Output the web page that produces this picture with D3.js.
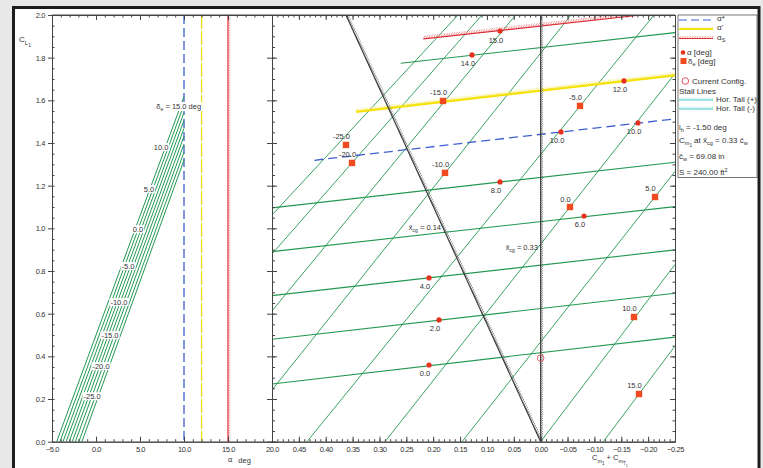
<!DOCTYPE html>
<html><head><meta charset="utf-8">
<script src="https://cdn.jsdelivr.net/npm/d3@7"></script>
<style>
body{margin:0;background:#e8e8e8;}
svg{display:block;font-family:"Liberation Sans",Arial,sans-serif;}
</style></head><body>
<svg id="chart" width="763" height="468"></svg>
<script>
// ---- left panel: CL vs alpha, one line per elevator deflection
const deVals = [15, 10, 5, 0, -5, -10, -15, -20, -25];
const deZeroLiftAlpha = [-4.47, -4.1, -3.75, -3.4, -3.05, -2.7, -2.35, -1.95, -1.6];
const deClAtAlphaStar = [1.617, 1.58, 1.543, 1.506, 1.469, 1.432, 1.395, 1.357, 1.32];
const deLabelAlpha = [9.40, 7.39, 6.02, 4.77, 3.64, 2.61, 1.59, 0.57, -0.45];
const deLabelCl    = [1.574, 1.382, 1.185, 0.997, 0.824, 0.655, 0.50, 0.355, 0.214];
const alphaStar = 10, alphaPrime = 12, alphaStall = 15;

// ---- right panel: carpet, CL vs Cm
// constant alpha lines (start / end points)
const alphaVals = [0, 2, 4, 6, 8, 10, 12, 14, 15];
const alphaCm0  = [0.5, 0.5, 0.5, 0.5, 0.5, 0.4213, 0.3437, 0.2605, 0.2184];
const alphaCl0  = [0.2705, 0.480, 0.6845, 0.891, 1.096, 1.319, 1.547, 1.774, 1.888];
const alphaCm1  = [-0.25, -0.25, -0.25, -0.25, -0.25, -0.25, -0.25, -0.25, -0.1868];
const alphaCl1  = [0.490, 0.696, 0.899, 1.102, 1.310, 1.513, 1.718, 1.9175, 2.0];
// constant elevator lines (start / end points)
const deLineVals = [-25, -20, -15, -10, -5, 0, 5, 10, 15];
const deLineCm0  = [0.5, 0.5, 0.5, 0.5, 0.4349, 0.2897, 0.1464, 0.0, -0.1166];
const deLineCl0  = [1.0628, 0.88, 0.613, 0.2424, 0, 0, 0, 0, 0];
const deLineCm1  = [0.1538, 0.1092, 0.0466, -0.0565, -0.211, -0.25, -0.25, -0.25, -0.25];
const deLineCl1  = [2.0, 2.0, 2.0, 2.0, 2.0, 1.7253, 1.2668, 0.8308, 0.4487];
// labelled alpha points
const alphaPtLabel = ["15.0", "14.0", "12.0", "10.0", "10.0", "8.0", "6.0", "4.0", "2.0", "0.0"];
const alphaPtCm    = [0.0757, 0.1278, -0.1551, -0.0379, -0.1812, 0.0757, -0.0807, 0.2078, 0.1892, 0.2078];
const alphaPtCl    = [1.925, 1.813, 1.691, 1.452, 1.494, 1.2175, 1.058, 0.7675, 0.5706, 0.3596];
// labelled elevator points
const dePtLabel = ["-25.0", "-20.0", "-15.0", "-10.0", "-5.0", "0.0", "5.0", "10.0", "15.0"];
const dePtCm    = [0.3623, 0.3511, 0.1817, 0.178, -0.0732, -0.0546, -0.2128, -0.1737, -0.183];
const dePtCl    = [1.391, 1.3066, 1.597, 1.26, 1.574, 1.10, 1.147, 0.5846, 0.2236];
// cg reference lines (Cm at CL=0, Cm at CL=2)
const cgVals   = [0.14, 0.33];
const cgCmLow  = [0.0, 0.0];
const cgCmHigh = [0.3623, 0.0];
const cgLabelCm = [0.1855, 0.005];
const cgLabelCl = [0.9925, 0.899];
const currentCm = 0.0, currentCl = 0.392;

const green = "#239850", red = "#e8301e", blue = "#3f5fd0", yellow = "#f2dc00", dark = "#333";

const svg = d3.select("#chart");
svg.append("rect").attr("width", 763).attr("height", 468).attr("fill", "#e8e8e8");
svg.append("rect").attr("x", 13.5).attr("y", 7.5).attr("width", 745.5).attr("height", 470)
  .attr("fill", "#fff").attr("stroke", "#1c1c1c").attr("stroke-width", 3);

const yScale = d3.scaleLinear().domain([0, 2]).range([441.7, 15]);
const aScale = d3.scaleLinear().domain([-5, 20]).range([52, 272]);
const cmScale = d3.scaleLinear().domain([0.5, -0.25]).range([272, 675]);

function hatch(g, x0, y0, x1, y1, o) {
  g.append("line").attr("x1", x0).attr("y1", y0).attr("x2", x1).attr("y2", y1)
    .attr("stroke", o.color).attr("stroke-width", o.width || 1.2);
  const dx = x1 - x0, dy = y1 - y0, L = Math.hypot(dx, dy), ux = dx / L, uy = dy / L;
  const nx = -uy * o.side, ny = ux * o.side;
  const p = d3.path(), step = o.step || 3, len = o.len || 3;
  for (let s = 0; s <= L; s += step) {
    const px = x0 + ux * s, py = y0 + uy * s;
    p.moveTo(px, py);
    p.lineTo(px + (nx * 0.8 + ux * 0.6) * len, py + (ny * 0.8 + uy * 0.6) * len);
  }
  g.append("path").attr("d", p.toString()).attr("fill", "none")
    .attr("stroke", o.tick).attr("stroke-width", 0.8);
}

// ---------- left panel ----------
const gl = svg.append("g");
gl.append("line").attr("x1", aScale(alphaStar)).attr("x2", aScale(alphaStar))
  .attr("y1", yScale(2)).attr("y2", yScale(0))
  .attr("stroke", blue).attr("stroke-width", 1.3).attr("stroke-dasharray", "9,4");
gl.append("line").attr("x1", aScale(alphaPrime)).attr("x2", aScale(alphaPrime))
  .attr("y1", yScale(2)).attr("y2", yScale(0))
  .attr("stroke", yellow).attr("stroke-width", 1.2).attr("stroke-dasharray", "14,2");
hatch(gl, aScale(alphaStall), yScale(0), aScale(alphaStall), yScale(2),
  {color: "#d8202a", tick: "#f08080", side: 1, step: 2.5, len: 3});

gl.selectAll("line.de").data(deVals).enter().append("line")
  .attr("x1", (d, i) => aScale(deZeroLiftAlpha[i])).attr("y1", yScale(0))
  .attr("x2", aScale(alphaStar)).attr("y2", (d, i) => yScale(deClAtAlphaStar[i]))
  .attr("stroke", green).attr("stroke-width", 1);

deVals.forEach((d, i) => {
  const t = gl.append("text").attr("x", aScale(deLabelAlpha[i])).attr("y", yScale(deLabelCl[i]) + 2.7)
    .attr("text-anchor", "middle").attr("font-size", 7.5).attr("fill", dark);
  if (i === 0) {
    t.append("tspan").text("δ");
    t.append("tspan").attr("font-size", 5).attr("dy", 2).text("e");
    t.append("tspan").attr("dy", -2).text(" = " + d.toFixed(1) + " deg");
  } else t.text(d.toFixed(1));
  const b = t.node().getBBox();
  gl.insert("rect", function () { return t.node(); })
    .attr("x", b.x - 1).attr("y", b.y + 0.5).attr("width", b.width + 2).attr("height", b.height - 1)
    .attr("fill", "#fff");
});

// ---------- right panel ----------
const gr = svg.append("g");
svg.append("clipPath").attr("id", "rc").append("rect")
  .attr("x", 272).attr("y", 15).attr("width", 403).attr("height", 426.7);
const gc = gr.append("g").attr("clip-path", "url(#rc)");

gc.selectAll("line.dl").data(deLineVals).enter().append("line")
  .attr("x1", (d, i) => cmScale(deLineCm0[i])).attr("y1", (d, i) => yScale(deLineCl0[i]))
  .attr("x2", (d, i) => cmScale(deLineCm1[i])).attr("y2", (d, i) => yScale(deLineCl1[i]))
  .attr("stroke", green).attr("stroke-width", 0.9);

alphaVals.forEach((a, i) => {
  const x0 = cmScale(alphaCm0[i]), y0 = yScale(alphaCl0[i]);
  const x1 = cmScale(alphaCm1[i]), y1 = yScale(alphaCl1[i]);
  if (a === alphaStar) {
    gc.append("line").attr("x1", x0).attr("y1", y0).attr("x2", x1).attr("y2", y1)
      .attr("stroke", blue).attr("stroke-width", 1.3).attr("stroke-dasharray", "9,5");
  } else if (a === alphaPrime) {
    hatch(gc, x0, y0, x1, y1, {color: "#f5e000", tick: "#f8ec80", side: -1, step: 2.5, len: 4, width: 2.5});
  } else if (a === alphaStall) {
    hatch(gc, x0, y0, x1, y1, {color: "#d8202a", tick: "#f08080", side: -1, step: 2.5, len: 4});
  } else {
    gc.append("line").attr("x1", x0).attr("y1", y0).attr("x2", x1).attr("y2", y1)
      .attr("stroke", green).attr("stroke-width", 1.1);
  }
});

cgVals.forEach((c, i) => {
  hatch(gc, cmScale(cgCmLow[i]), yScale(0), cmScale(cgCmHigh[i]), yScale(2),
    {color: "#333", tick: "#666", side: 1, step: 2.2, len: 3, width: 1.2});
  const t = gr.append("text").attr("x", cmScale(cgLabelCm[i])).attr("y", yScale(cgLabelCl[i]))
    .attr("text-anchor", "end").attr("font-size", 7.5).attr("fill", dark);
  t.append("tspan").text("x̄");
  t.append("tspan").attr("font-size", 5).attr("dy", 2).text("cg");
  t.append("tspan").attr("dy", -2).text(" = " + c.toFixed(2));
});

// points
gr.selectAll("circle.ap").data(alphaPtLabel).enter().append("circle")
  .attr("cx", (d, i) => cmScale(alphaPtCm[i])).attr("cy", (d, i) => yScale(alphaPtCl[i]))
  .attr("r", 2.6).attr("fill", red);
gr.selectAll("text.ap").data(alphaPtLabel).enter().append("text")
  .attr("x", (d, i) => cmScale(alphaPtCm[i]) - 4).attr("y", (d, i) => yScale(alphaPtCl[i]) + 11.5)
  .attr("text-anchor", "middle").attr("font-size", 7.5).attr("fill", dark).text(d => d);
gr.selectAll("rect.dp").data(dePtLabel).enter().append("rect")
  .attr("x", (d, i) => cmScale(dePtCm[i]) - 3.2).attr("y", (d, i) => yScale(dePtCl[i]) - 3.2)
  .attr("width", 6.4).attr("height", 6.4).attr("fill", "#f04a20");
gr.selectAll("text.dp").data(dePtLabel).enter().append("text")
  .attr("x", (d, i) => cmScale(dePtCm[i]) - 4.5).attr("y", (d, i) => yScale(dePtCl[i]) - 5.5)
  .attr("text-anchor", "middle").attr("font-size", 7.5).attr("fill", dark).text(d => d);
gr.append("circle").attr("cx", cmScale(currentCm)).attr("cy", yScale(currentCl))
  .attr("r", 3.3).attr("fill", "none").attr("stroke", "#e05060").attr("stroke-width", 0.9);

// ---------- axes ----------
const ax = svg.append("g");
const fmt1 = d3.format(".1f"), fmt2 = d3.format(".2f");
function styleAxis(g) {
  g.select(".domain").attr("stroke", "#444");
  g.selectAll(".tick line").attr("stroke", "#444");
  g.selectAll("text").attr("fill", dark).attr("font-family", "Liberation Sans, Arial")
    .attr("font-size", 7.5).attr("letter-spacing", -0.4);
}
// left panel x
ax.append("g").attr("transform", "translate(0,441.7)")
  .call(d3.axisBottom(aScale).tickValues([-5, 0, 5, 10, 15, 20]).tickFormat(fmt1)
    .tickSize(-5).tickPadding(5).tickSizeOuter(0)).call(styleAxis);
ax.append("g").attr("transform", "translate(0,441.7)")
  .call(d3.axisBottom(aScale).tickValues(d3.range(-5, 20, 1)).tickFormat("").tickSize(-2.5).tickSizeOuter(0)).call(styleAxis);
ax.append("g").attr("transform", "translate(0,15)")
  .call(d3.axisTop(aScale).tickValues([-5, 0, 5, 10, 15, 20]).tickFormat("").tickSize(-5).tickSizeOuter(0)).call(styleAxis);
ax.append("g").attr("transform", "translate(0,15)")
  .call(d3.axisTop(aScale).tickValues(d3.range(-5, 20, 1)).tickFormat("").tickSize(-2.5).tickSizeOuter(0)).call(styleAxis);
// right panel x
const cmMajor = [0.45, 0.4, 0.35, 0.3, 0.25, 0.2, 0.15, 0.1, 0.05, 0, -0.05, -0.1, -0.15, -0.2, -0.25];
const cmMinor = d3.range(-25, 50, 1).map(v => v / 100);
ax.append("g").attr("transform", "translate(0,441.7)")
  .call(d3.axisBottom(cmScale).tickValues(cmMajor).tickFormat(fmt2)
    .tickSize(-5).tickPadding(5).tickSizeOuter(0)).call(styleAxis);
ax.append("g").attr("transform", "translate(0,441.7)")
  .call(d3.axisBottom(cmScale).tickValues(cmMinor).tickFormat("").tickSize(-2.5).tickSizeOuter(0)).call(styleAxis);
ax.append("g").attr("transform", "translate(0,15)")
  .call(d3.axisTop(cmScale).tickValues(cmMajor).tickFormat("").tickSize(-5).tickSizeOuter(0)).call(styleAxis);
ax.append("g").attr("transform", "translate(0,15)")
  .call(d3.axisTop(cmScale).tickValues(cmMinor).tickFormat("").tickSize(-2.5).tickSizeOuter(0)).call(styleAxis);
// y axes
const clMajor = d3.range(0, 11).map(v => v / 5);
const clMinor = d3.range(0, 41).map(v => v / 20);
ax.append("g").attr("transform", "translate(52,0)")
  .call(d3.axisLeft(yScale).tickValues(clMajor).tickFormat(fmt1).tickSize(4).tickPadding(3).tickSizeOuter(0)).call(styleAxis);
ax.append("g").attr("transform", "translate(52,0)")
  .call(d3.axisLeft(yScale).tickValues(clMinor).tickFormat("").tickSize(-2.5).tickSizeOuter(0)).call(styleAxis);
ax.append("g").attr("transform", "translate(272,0)")
  .call(d3.axisLeft(yScale).tickValues(clMajor).tickFormat("").tickSize(5).tickSizeOuter(0)).call(styleAxis);
ax.append("g").attr("transform", "translate(272,0)")
  .call(d3.axisRight(yScale).tickValues(clMajor).tickFormat("").tickSize(5).tickSizeOuter(0)).call(styleAxis);
ax.append("g").attr("transform", "translate(272,0)")
  .call(d3.axisRight(yScale).tickValues(clMinor).tickFormat("").tickSize(3).tickSizeOuter(0)).call(styleAxis);
ax.append("g").attr("transform", "translate(675,0)")
  .call(d3.axisRight(yScale).tickValues(clMajor).tickFormat("").tickSize(-5).tickSizeOuter(0)).call(styleAxis);
ax.append("g").attr("transform", "translate(675,0)")
  .call(d3.axisRight(yScale).tickValues(clMinor).tickFormat("").tickSize(-2.5).tickSizeOuter(0)).call(styleAxis);
ax.append("line").attr("x1", 52).attr("x2", 675).attr("y1", 15).attr("y2", 15).attr("stroke", "#444");

// axis titles
const t1 = svg.append("text").attr("x", 228).attr("y", 462).attr("font-size", 7.5).attr("fill", dark);
t1.append("tspan").text("α");
t1.append("tspan").attr("dx", 6).attr("dy", 1).text("deg");
const t2 = svg.append("text").attr("x", 592).attr("y", 460).attr("font-size", 7.5).attr("fill", dark);
t2.append("tspan").text("C");
t2.append("tspan").attr("font-size", 5.5).attr("dy", 3).text("m");
t2.append("tspan").attr("font-size", 4.5).attr("dy", 2).text("1");
t2.append("tspan").attr("dy", -5).text(" + C");
t2.append("tspan").attr("font-size", 5.5).attr("dy", 3).text("m");
t2.append("tspan").attr("font-size", 4.5).attr("dy", 2).text("T");
t2.append("tspan").attr("font-size", 3.5).attr("dy", 2).text("1");
const t3 = svg.append("text").attr("x", 19).attr("y", 42).attr("font-size", 8).attr("fill", dark);
t3.append("tspan").text("C");
t3.append("tspan").attr("font-size", 6).attr("dy", 3).text("L");
t3.append("tspan").attr("font-size", 5).attr("dy", 2).text("1");

// ---------- legend ----------
const lg = svg.append("g").attr("font-size", 8).attr("fill", dark);
lg.append("rect").attr("x", 678).attr("y", 15).attr("width", 79).attr("height", 162.5)
  .attr("fill", "#fff").attr("stroke", "#555").attr("stroke-width", 0.8);
lg.append("line").attr("x1", 679).attr("x2", 713).attr("y1", 20).attr("y2", 20)
  .attr("stroke", blue).attr("stroke-width", 1.2).attr("stroke-dasharray", "8,4");
hatch(lg, 679, 29, 713, 29, {color: "#f5e000", tick: "#f8ec80", side: -1, step: 2.5, len: 3, width: 2});
hatch(lg, 679, 38.5, 713, 38.5, {color: "#d8202a", tick: "#f08080", side: -1, step: 2.5, len: 3});
hatch(lg, 679, 100, 713, 100, {color: "#40c8c8", tick: "#8ee0e0", side: -1, step: 2.5, len: 3});
hatch(lg, 679, 109, 713, 109, {color: "#40c8c8", tick: "#8ee0e0", side: -1, step: 2.5, len: 3});
function ltext(x, y) { return lg.append("text").attr("x", x).attr("y", y + 3); }
ltext(717, 18).text("α*");
ltext(717, 27).text("α'");
const ls = ltext(717, 37); ls.append("tspan").text("α"); ls.append("tspan").attr("font-size", 5.5).attr("dy", 2).text("S");
lg.append("circle").attr("cx", 683).attr("cy", 52.5).attr("r", 2.3).attr("fill", red);
ltext(687, 52).text("α [deg]");
lg.append("rect").attr("x", 680.5).attr("y", 58).attr("width", 6).attr("height", 6).attr("fill", "#f04a20");
const lde = ltext(688, 60.5); lde.append("tspan").text("δ"); lde.append("tspan").attr("font-size", 5.5).attr("dy", 2).text("e"); lde.append("tspan").attr("dy", -2).text(" [deg]");
lg.append("circle").attr("cx", 685.3).attr("cy", 81).attr("r", 3.3).attr("fill", "none").attr("stroke", "#e05060");
ltext(692, 81).text("Current Config.");
ltext(679, 90.5).text("Stall Lines");
ltext(716, 99).text("Hor. Tail (+)");
ltext(716, 108).text("Hor. Tail (-)");
const lih = ltext(679, 127); lih.append("tspan").text("i"); lih.append("tspan").attr("font-size", 5.5).attr("dy", 2).text("h"); lih.append("tspan").attr("dy", -2).text(" = -1.50 deg");
const lcm = ltext(679, 140); lcm.append("tspan").text("C"); lcm.append("tspan").attr("font-size", 5.5).attr("dy", 2).text("m"); lcm.append("tspan").attr("font-size", 4.5).attr("dy", 2).text("1");
lcm.append("tspan").attr("dy", -4).text("  at x̄"); lcm.append("tspan").attr("font-size", 5.5).attr("dy", 2).text("cg");
lcm.append("tspan").attr("dy", -2).text(" = 0.33 c̄"); lcm.append("tspan").attr("font-size", 5.5).attr("dy", 2).text("w");
const lcw = ltext(679, 156); lcw.append("tspan").text("c̄"); lcw.append("tspan").attr("font-size", 5.5).attr("dy", 2).text("w"); lcw.append("tspan").attr("dy", -2).text(" = 69.08 in");
const lS = ltext(679, 171.5); lS.append("tspan").text("S = 240.00 ft"); lS.append("tspan").attr("font-size", 5.5).attr("dy", -3).text("2");
</script>
</body></html>
